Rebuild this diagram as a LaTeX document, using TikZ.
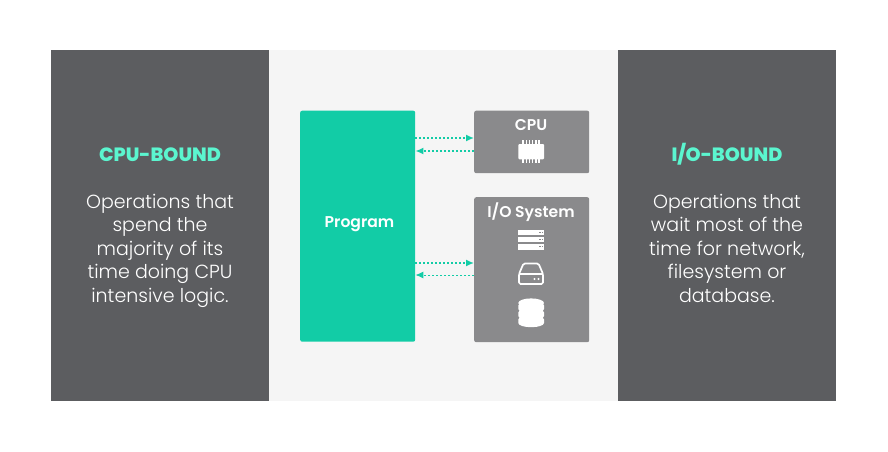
\documentclass[tikz,border=0pt]{standalone}
\usepackage{fontspec}
\setmainfont{Poppins}
\newfontfamily\lightf{Poppins Light}
\newfontfamily\medf{Poppins SemiBold}
\newfontfamily\boldf{Poppins ExtraBold}
\usetikzlibrary{arrows.meta}
\definecolor{darkpanel}{HTML}{5C5D60}
\definecolor{lightpanel}{HTML}{F5F5F5}
\definecolor{tealbox}{HTML}{12CCA6}
\definecolor{greybox}{HTML}{8A8A8C}
\definecolor{headcol}{HTML}{5BF5CF}
\tikzset{
  panel/.style={fill=darkpanel,draw=none,minimum width=218pt,minimum height=350.5pt,inner sep=0pt,anchor=north west},
  compbox/.style={fill=greybox,draw=none,rounded corners=2pt,inner sep=0pt,anchor=north west,minimum width=115pt},
  heading/.style={text=headcol,font=\boldf\fontsize{19.2}{22}\selectfont,inner sep=0pt,anchor=base},
  bodytext/.style={text=white,align=center,inner sep=0pt,font=\lightf\fontsize{19}{23.5}\selectfont},
  boxlabel/.style={text=white,inner sep=0pt,anchor=base,font=\medf\fontsize{15.6}{18}\selectfont},
  link/.style={draw=tealbox,line width=1.5pt,dash pattern=on 2pt off 2pt,
     -{Latex[length=8pt,width=7pt,fill=tealbox,color=tealbox,sep=0pt]}},
  thinlink/.style={link,line width=1pt,dash pattern=on 2.5pt off 1.5pt},
  icon/.style={fill=white,draw=none},
}
\begin{document}
\begin{tikzpicture}[x=1pt,y=-1pt]
\useasboundingbox (0,0) rectangle (888,451);
\fill[white] (0,0) rectangle (888,451);
\fill[lightpanel] (269,50) rectangle (618,400.5);
\node[panel] (left) at (51,50) {};
\node[panel] (right) at (618,50) {};
\node[fill=tealbox,rounded corners=2pt,minimum width=115pt,minimum height=231pt,inner sep=0pt,anchor=north west] (prog) at (300,110.5) {};
\node[compbox,minimum height=62.5pt] (cpu) at (474,110.5) {};
\node[compbox,minimum height=145pt] (io) at (474,197) {};
\node[boxlabel] (proglabel) at (359.5,227) {Program};
\node[boxlabel] (cpulabel) at (531,130) {CPU};
\node[boxlabel] (iolabel) at (531,217) {I/O System};
\node[heading] (lhead) at (160,161.5) {CPU-BOUND};
\node[heading] (rhead) at (727,161.5) {I/O-BOUND};
\node[bodytext] (ltext) at (160,250.5) {\strut Operations that\\spend the\\majority of its\\time doing CPU\\\strut intensive logic.};
\node[bodytext] (rtext) at (727,250.5) {\strut Operations that\\wait most of the\\time for network,\\filesystem or\\\strut database.};
% connectors
\coordinate (a1) at (prog.east |- 0,138);
\coordinate (a2) at (cpu.west |- 0,138);
\coordinate (b1) at (cpu.west |- 0,151);
\coordinate (b2) at (prog.east |- 0,151);
\coordinate (c1) at (prog.east |- 0,263);
\coordinate (c2) at (io.west |- 0,263);
\coordinate (d1) at (io.west |- 0,275);
\coordinate (d2) at (prog.east |- 0,275);
\draw[link] (a1) -- (a2);
\draw[link] (b1) -- (b2);
\draw[link] (c1) -- (c2);
\draw[thinlink] (d1) -- (d2);
% chip
\fill[icon,rounded corners=1pt] (518.3,144) rectangle (544,159.3);
\foreach \x in {523,526.2,529.4,532.6,535.8,539}{
  \fill[icon] (\x-0.7,140.2) rectangle (\x+0.7,163);
}
% server
\foreach \y/\h in {230/5,237/5.2,244/5.6}{
  \fill[icon] (518.3,\y) rectangle (544,\y+\h);
  \fill[greybox] (539,\y+2) rectangle (540.5,\y+3.2);
  \fill[greybox] (541.6,\y+2) rectangle (542.8,\y+3.2);
}
% disk
\draw[white,line width=1.7pt,line join=round,rounded corners=1.5pt]
  (519,274) -- (523.5,263.5) -- (538.5,263.5) -- (543,274) -- (543,284) -- (519,284) -- cycle;
\draw[white,line width=1.7pt] (519,274) -- (543,274);
\fill[white] (534.5,279) circle (1.1pt);
\fill[white] (538.5,279) circle (1.1pt);
% database
\fill[icon] (518.3,303) arc[start angle=180,end angle=360,x radius=12.85pt,y radius=4.6pt]
  arc[start angle=0,end angle=180,x radius=12.85pt,y radius=4.6pt] -- cycle;
\foreach \y in {305.5,312.5,319.5}{
  \fill[icon] (518.3,\y) -- (518.3,\y+3.5) arc[start angle=180,end angle=360,x radius=12.85pt,y radius=4.2pt]
   -- (544,\y) arc[start angle=0,end angle=-180,x radius=12.85pt,y radius=-4pt] -- cycle;
}
\end{tikzpicture}
\end{document}
